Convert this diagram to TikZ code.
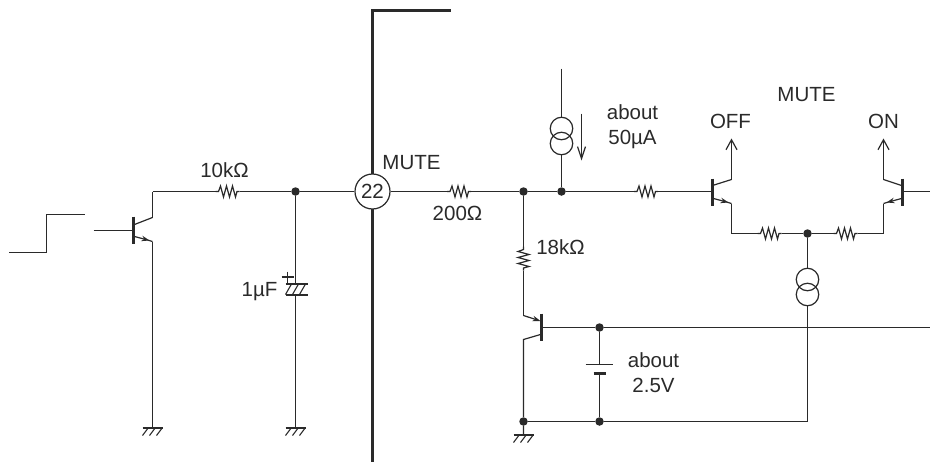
\documentclass[tikz,border=0pt]{standalone}
\usepackage{fontspec}
\setmainfont{Liberation Sans}
\definecolor{ink}{HTML}{2A2A2A}
\usetikzlibrary{arrows.meta}
\tikzset{
  wire/.style={draw=ink,line width=1.2pt,line join=miter},
  heavy/.style={draw=ink,line width=3.1pt,line cap=butt},
  lab/.style={inner sep=0pt,text=ink,font=\fontsize{20.5}{25}\selectfont,align=center},
  junction/.style={circle,fill=ink,inner sep=0pt,minimum size=8.5pt},
  csrc/.style={circle,draw=ink,line width=1.2pt,inner sep=0pt,minimum size=22.5pt},
  pics/hres/.style={code={\draw[wire] (-12,0)--(-9,0)--(-7,-5.5)--(-4,5.5)--(-1,-5.5)--(2,5.5)--(5,-5.5)--(8,5.5)--(9.5,0)--(12,0);}},
  pics/vres/.style={code={\draw[wire] (0,-12)--(0,-9)--(-5.5,-7)--(5.5,-4)--(-5.5,-1)--(5.5,2)--(-5.5,5)--(5.5,8)--(0,9.5)--(0,12);}},
  pics/gnd/.style={code={\draw[wire,line width=2pt] (-10,0)--(10,0);
     \foreach \s in {-7,0,7} \draw[wire,line width=1.1pt] (\s+3,0)--(\s-3,8);}},
  openarrow/.style={-{Straight Barb[length=10pt,width=11pt,line width=1.2pt]}},
  thinarrow/.style={-{Straight Barb[length=12pt,width=8pt,line width=1.2pt]}},
  emit/.style={-{Stealth[length=8pt,width=5.5pt,fill=ink]}},
}
\begin{document}
\begin{tikzpicture}[x=1pt,y=-1pt]
\useasboundingbox (-0.5,-0.5) rectangle (929.5,460.5);
% package wall
\coordinate (wt) at (450,10); \coordinate (wc) at (372,10); \coordinate (wb) at (372,461);
\draw[heavy,line join=miter] (wt)--(wc)--(wb);
% pin
\node[circle,draw=ink,line width=1.2pt,fill=white,minimum size=35pt,inner sep=0pt,font=\fontsize{20.5}{24}\selectfont,text=ink] (pin) at (372,191) {22};
\node[lab] (lmute) at (411,162) {MUTE};
% junctions
\node[junction] (j1) at (295,191) {};
\node[junction] (j2) at (523,191) {};
\node[junction] (j3) at (561,191) {};
\node[junction] (j4) at (807,233) {};
\node[junction] (j5) at (599,327) {};
\node[junction] (j6) at (523,421) {};
\node[junction] (j7) at (599,421) {};
% step
\coordinate (s1) at (9,252); \coordinate (s2) at (46,252); \coordinate (s3) at (46,214); \coordinate (s4) at (84,214);
\draw[wire] (s1)--(s2)--(s3)--(s4);
% Q1
\coordinate (q1in) at (93,230); \coordinate (q1b) at (133,230);
\coordinate (q1c) at (152,217); \coordinate (q1e) at (152,241);
\draw[wire] (q1in)--(q1b);
\draw[wire,line width=2.6pt] (133,216)--(133,243);
\draw[wire] (134,224)--(q1c);
\draw[wire,emit] (134,236)--(149,240);
\draw[wire] (147,239.5)--(q1e);
\coordinate (q1top) at (152,191);
\draw[wire] (q1c)--(q1top);
\pic at (227,191) {hres};
\coordinate (r1l) at (215,191); \coordinate (r1r) at (239,191);
\draw[wire] (q1top)--(r1l) (r1r)--(j1)--(pin);
\node[lab] (l10k) at (224,170) {10kΩ};
% Q1 ground
\coordinate (g1) at (152,427); \coordinate (g2) at (295,427); \coordinate (g3) at (523,434);
\draw[wire] (q1e)--(g1); \pic at (g1) {gnd};
% capacitor
\coordinate (ct) at (295,283.5); \coordinate (cb) at (295,294);
\draw[wire] (j1)--(ct); \draw[wire] (cb)--(g2); \pic at (g2) {gnd};
\draw[wire,line width=2pt] (285,283.5)--(307,283.5) (285,294)--(307,294);
\foreach \s in {291,298,305} \draw[wire,line width=1.1pt] (\s,283.5)--(\s-6,294);
\draw[wire,line width=1.8pt] (281,276.5)--(293,276.5) (287,271)--(287,282);
\node[lab] (l1u) at (259,291) {1µF};
% pin to right
\pic at (458.5,191) {hres};
\coordinate (r2l) at (446.5,191); \coordinate (r2r) at (470.5,191);
\draw[wire] (pin)--(r2l) (r2r)--(j2)--(j3);
\node[lab] (l200) at (457,213) {200Ω};
% upper current source
\coordinate (it) at (561,68);
\node[csrc] (i1a) at (561,128) {};
\node[csrc] (i1b) at (561,143) {};
\draw[wire] (it)--(i1a.north) (i1b.south)--(j3);
\coordinate (a1) at (581,113); \coordinate (a2) at (581,160);
\draw[wire,thinarrow] (a1)--(a2);
\node[lab] (l50) at (632,126.5) {about\\50µA};
% right resistor
\pic at (645.5,191) {hres};
\coordinate (r3l) at (633.5,191); \coordinate (r3r) at (657.5,191);
\coordinate (q2b) at (712,191);
\draw[wire] (j3)--(r3l) (r3r)--(q2b);
% Q2
\draw[wire,line width=2.6pt] (712,178)--(712,205);
\coordinate (q2c) at (731,179); \coordinate (q2e) at (731,203); \coordinate (q2o) at (731,138);
\draw[wire] (712,185)--(q2c);
\draw[wire,openarrow] (q2c)--(q2o);
\draw[wire,emit] (713,198)--(728,202);
\draw[wire] (726,201.5)--(q2e);
\node[lab] (loff) at (730,121) {OFF};
% Q3 (right)
\draw[wire,line width=2.6pt] (902,178)--(902,205);
\coordinate (q3c) at (883,179); \coordinate (q3e) at (883,203); \coordinate (q3o) at (883,138);
\coordinate (q3b) at (902,191); \coordinate (q3in) at (930,191);
\draw[wire] (q3in)--(q3b);
\draw[wire] (901,185)--(q3c);
\draw[wire,openarrow] (q3c)--(q3o);
\draw[wire,emit] (901,198)--(886,202);
\draw[wire] (888,201.5)--(q3e);
\node[lab] (lon) at (883,121) {ON};
\node[lab] (lm2) at (806,94) {MUTE};
% emitter network
\coordinate (e1) at (731,233); \coordinate (e2) at (883,233);
\pic at (769,233) {hres}; \pic at (845,233) {hres};
\coordinate (r4l) at (757,233); \coordinate (r4r) at (781,233);
\coordinate (r5l) at (833,233); \coordinate (r5r) at (857,233);
\draw[wire] (q2e)--(e1)--(r4l) (r4r)--(j4)--(r5l) (r5r)--(e2)--(q3e);
% lower current source
\node[csrc] (i2a) at (807,279) {};
\node[csrc] (i2b) at (807,294) {};
\draw[wire] (j4)--(i2a.north);
\coordinate (bc) at (807,421);
\draw[wire] (i2b.south)--(bc)--(j7)--(j6);
% 18k
\pic at (523,258) {vres};
\coordinate (r6t) at (523,246); \coordinate (r6b) at (523,270);
\draw[wire] (j2)--(r6t);
\node[lab] (l18) at (560,247) {18kΩ};
% Q4
\coordinate (q4t) at (523,315); \coordinate (q4l) at (523,339); \coordinate (q4b) at (541,327); \coordinate (q4r) at (930,327);
\draw[wire] (r6b)--(q4t);
\draw[wire,emit] (q4t)--(540,320.5);
\draw[wire,line width=2.6pt] (541,313)--(541,340);
\draw[wire] (540,334)--(q4l)--(j6)--(g3);
\pic at (g3) {gnd};
\draw[wire] (q4b)--(j5)--(q4r);
% battery
\coordinate (bt) at (599,364); \coordinate (bb) at (599,373);
\draw[wire] (j5)--(bt) (bb)--(j7);
\draw[wire] (585,364)--(612,364);
\draw[wire,line width=2.6pt] (593,373)--(605,373);
\node[lab] (l25) at (653,372) {about\\2.5V};
\end{tikzpicture}
\end{document}
